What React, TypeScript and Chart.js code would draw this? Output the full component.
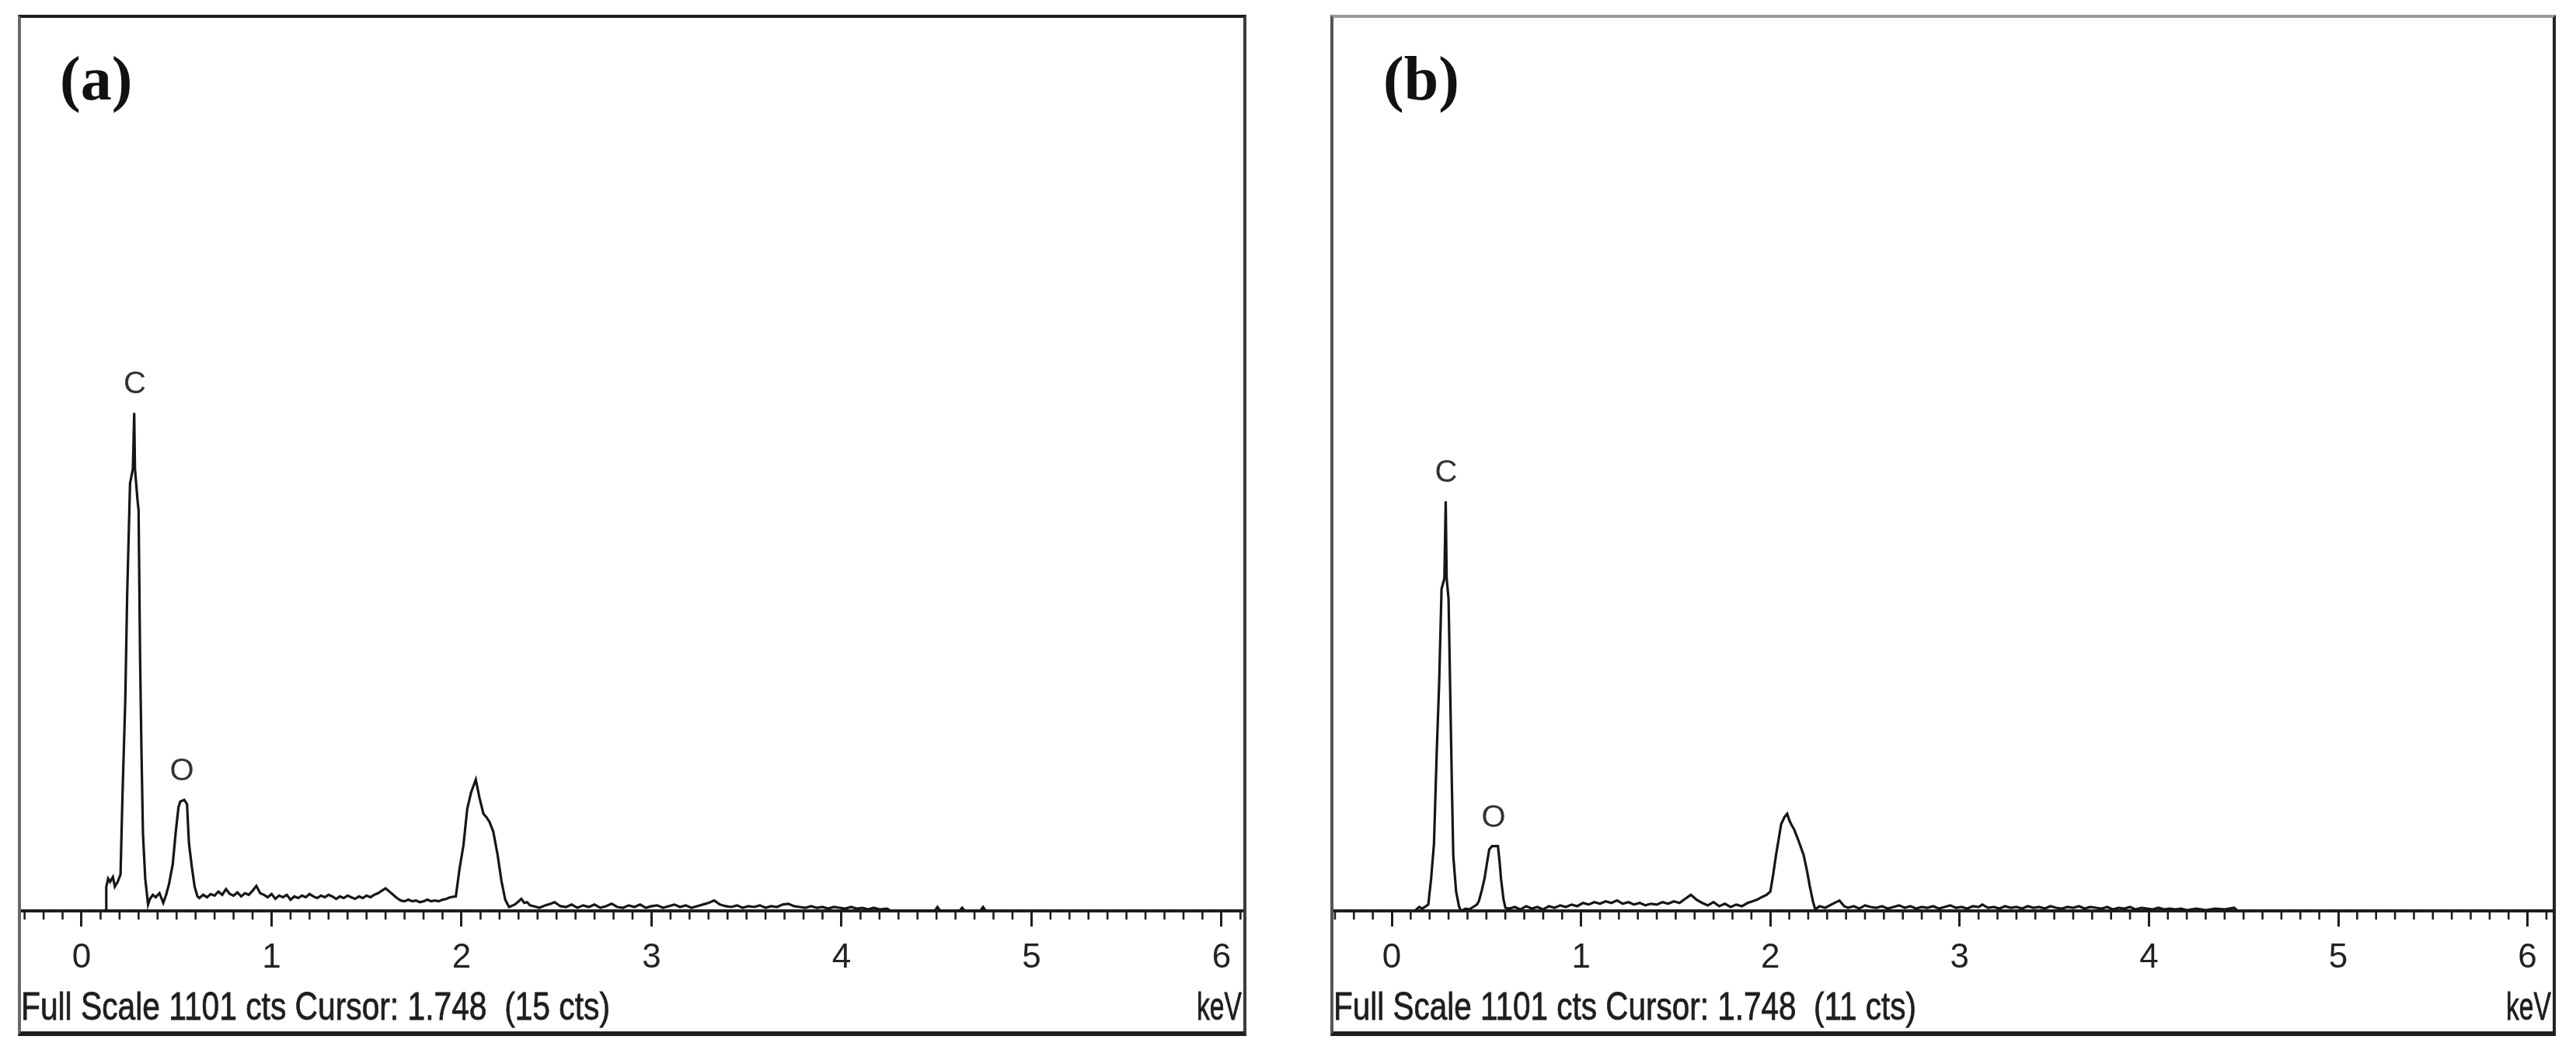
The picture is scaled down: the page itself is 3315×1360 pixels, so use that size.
import React, { useEffect, useRef } from 'react';
import { Chart, registerables } from 'chart.js';

Chart.register(...registerables);

// ---- data (energy keV, counts) ----
const FULL_SCALE = 1101;
const tickLabelsKeV = [0, 1, 2, 3, 4, 5, 6];

const spectrumA: [number, number][] = [
  [0.12, 0], [0.128, 0], [0.13, 30], [0.14, 40], [0.15, 36], [0.165, 42], [0.175, 30], [0.19, 36],
  [0.205, 45], [0.215, 140], [0.23, 260], [0.24, 390], [0.255, 527], [0.27, 545], [0.277, 614],
  [0.281, 545], [0.295, 505], [0.3, 494], [0.308, 311], [0.315, 200], [0.323, 96], [0.335, 40],
  [0.35, 8], [0.36, 15], [0.375, 20], [0.39, 17], [0.41, 22], [0.43, 10], [0.445, 20], [0.46, 33],
  [0.48, 58], [0.495, 96], [0.51, 128], [0.52, 135], [0.54, 137], [0.555, 132], [0.565, 84],
  [0.58, 55], [0.595, 30], [0.61, 18],
  [0.62, 16], [0.64, 20], [0.66, 17], [0.68, 21], [0.7, 19], [0.72, 24], [0.74, 20], [0.76, 27],
  [0.78, 21], [0.8, 19], [0.82, 23], [0.84, 18], [0.86, 22], [0.88, 20], [0.9, 25], [0.92, 31],
  [0.94, 22], [0.96, 20], [0.98, 17], [1.0, 21], [1.02, 15], [1.04, 19], [1.06, 17], [1.08, 20],
  [1.1, 14], [1.12, 18], [1.14, 16], [1.16, 19], [1.18, 17], [1.2, 21], [1.22, 18], [1.24, 16],
  [1.26, 19], [1.28, 17], [1.3, 20], [1.32, 18], [1.34, 15], [1.36, 18], [1.38, 16], [1.4, 19],
  [1.42, 17], [1.44, 15], [1.46, 18], [1.48, 16], [1.5, 19], [1.52, 17], [1.54, 20], [1.56, 22],
  [1.58, 25], [1.6, 28], [1.62, 24], [1.64, 20], [1.66, 16], [1.68, 13], [1.7, 12], [1.72, 14],
  [1.74, 12], [1.76, 13], [1.78, 11], [1.8, 12], [1.82, 14], [1.84, 12], [1.86, 13], [1.88, 12],
  [1.9, 14], [1.92, 15], [1.94, 17],
  [1.97, 18], [1.99, 53], [2.01, 81], [2.03, 126], [2.05, 146], [2.075, 162], [2.095, 139],
  [2.115, 120], [2.13, 116], [2.147, 110], [2.167, 98], [2.19, 69], [2.21, 37], [2.23, 14],
  [2.25, 5], [2.28, 8], [2.3, 12], [2.315, 15], [2.33, 10], [2.345, 11], [2.36, 7], [2.38, 6],
  [2.41, 4], [2.44, 7], [2.47, 9], [2.49, 11], [2.52, 6], [2.55, 5], [2.58, 8], [2.61, 4],
  [2.64, 7], [2.67, 5], [2.7, 8], [2.73, 4], [2.76, 6], [2.79, 9], [2.82, 5], [2.85, 4],
  [2.88, 7], [2.91, 5], [2.94, 8], [2.97, 4], [3.0, 6], [3.03, 7], [3.06, 4], [3.09, 6],
  [3.12, 8], [3.15, 5], [3.18, 7], [3.21, 4], [3.24, 6], [3.27, 8], [3.3, 10], [3.33, 13],
  [3.36, 8], [3.39, 6], [3.42, 5], [3.45, 7], [3.48, 4], [3.51, 6], [3.54, 5], [3.57, 7],
  [3.6, 4], [3.63, 6], [3.66, 5], [3.69, 8], [3.72, 9], [3.75, 6], [3.78, 5], [3.81, 4],
  [3.84, 6], [3.87, 4], [3.9, 5], [3.93, 3], [3.96, 5], [3.99, 4], [4.02, 3], [4.05, 5],
  [4.08, 3], [4.11, 4], [4.14, 2], [4.17, 4], [4.2, 2], [4.24, 3], [4.26, 0], [4.49, 0],
  [4.505, 5], [4.52, 0], [4.62, 0], [4.635, 4], [4.65, 0], [4.73, 0], [4.745, 5], [4.76, 0],
];

const spectrumB: [number, number][] = [
  [0.12, 0], [0.13, 2], [0.145, 5], [0.16, 3], [0.175, 5], [0.193, 8], [0.208, 40], [0.223, 83],
  [0.238, 199], [0.25, 278], [0.263, 397], [0.278, 410], [0.285, 505], [0.29, 410], [0.3, 385],
  [0.31, 254], [0.318, 150], [0.325, 68], [0.34, 24], [0.355, 6], [0.365, 0], [0.39, 3],
  [0.41, 2], [0.43, 5], [0.45, 8], [0.46, 12], [0.475, 25], [0.49, 40], [0.505, 62], [0.515, 76],
  [0.53, 80], [0.561, 80], [0.57, 60], [0.577, 40], [0.59, 15], [0.6, 4],
  [0.62, 3], [0.65, 5], [0.68, 2], [0.71, 6], [0.74, 3], [0.77, 5], [0.8, 2], [0.83, 6],
  [0.86, 4], [0.89, 7], [0.92, 5], [0.95, 8], [0.98, 6], [1.01, 10], [1.04, 8], [1.07, 11],
  [1.1, 9], [1.13, 12], [1.16, 10], [1.19, 13], [1.22, 9], [1.25, 11], [1.28, 8], [1.31, 10],
  [1.34, 7], [1.37, 9], [1.4, 8], [1.43, 11], [1.46, 9], [1.49, 12], [1.52, 10], [1.55, 15],
  [1.58, 20], [1.61, 14], [1.64, 10], [1.67, 7], [1.7, 11], [1.73, 6], [1.76, 9], [1.79, 5],
  [1.82, 8], [1.85, 6], [1.88, 10], [1.905, 12], [1.93, 14], [1.953, 17], [1.98, 20], [2.0, 24],
  [2.015, 45], [2.03, 69], [2.045, 90], [2.057, 107], [2.075, 116], [2.089, 120], [2.1, 112],
  [2.11, 107], [2.127, 100], [2.15, 86], [2.176, 69], [2.195, 48], [2.208, 31], [2.225, 12],
  [2.237, 2], [2.26, 6], [2.29, 4], [2.33, 9], [2.365, 13], [2.39, 6], [2.41, 4],
  [2.44, 6], [2.47, 3], [2.5, 7], [2.53, 5], [2.56, 4], [2.59, 6], [2.62, 3], [2.65, 5],
  [2.68, 7], [2.71, 4], [2.74, 6], [2.77, 3], [2.8, 5], [2.83, 4], [2.86, 6], [2.89, 3],
  [2.92, 5], [2.95, 7], [2.98, 4], [3.01, 5], [3.04, 3], [3.07, 6], [3.1, 5], [3.12, 8],
  [3.15, 4], [3.18, 5], [3.21, 3], [3.24, 6], [3.27, 4], [3.3, 5], [3.33, 3], [3.36, 6],
  [3.39, 4], [3.42, 5], [3.45, 3], [3.48, 6], [3.51, 4], [3.54, 3], [3.57, 5], [3.6, 4],
  [3.63, 6], [3.66, 3], [3.69, 5], [3.72, 4], [3.75, 3], [3.78, 5], [3.81, 2], [3.84, 4],
  [3.87, 3], [3.9, 5], [3.93, 2], [3.96, 4], [3.99, 3], [4.02, 2], [4.05, 4], [4.08, 2],
  [4.11, 3], [4.14, 2], [4.17, 3], [4.2, 1], [4.25, 3], [4.3, 1], [4.35, 3], [4.4, 2],
  [4.45, 4], [4.47, 0],
];

const peakNames = ['C', 'O'];
const peakEnergyA = [0.28, 0.528];
const peakCountsA = [614, 137];
const peakEnergyB = [0.287, 0.538];
const peakCountsB = [505, 80];

const panelTitles = ['(a)', '(b)'];
const footerTexts = [
  'Full Scale 1101 cts Cursor: 1.748  (15 cts)',
  'Full Scale 1101 cts Cursor: 1.748  (11 cts)',
];
const unitText = 'keV';

type PanelProps = {
  spectrum: [number, number][];
  xMin: number;
  xMax: number;
  peakEnergy: number[];
  peakCounts: number[];
  title: string;
  titleX: number;
  footer: string;
  footerWidth: number;
  box: React.CSSProperties;
  canvasW: number;
  canvasH: number;
};

function drawSqueezed(
  ctx: CanvasRenderingContext2D,
  text: string,
  x: number,
  y: number,
  targetW: number,
  align: CanvasTextAlign
) {
  ctx.save();
  ctx.font = '50px "Liberation Sans", Arial, sans-serif';
  const w = ctx.measureText(text).width;
  const s = targetW / w;
  ctx.translate(x, y);
  ctx.scale(s, 1);
  ctx.textAlign = align;
  ctx.textBaseline = 'alphabetic';
  ctx.fillStyle = '#1e1e1e';
  ctx.strokeStyle = '#1e1e1e';
  ctx.lineWidth = 0.8;
  ctx.fillText(text, 0, 0);
  ctx.strokeText(text, 0, 0);
  ctx.restore();
}

function Panel(p: PanelProps) {
  const ref = useRef<HTMLCanvasElement | null>(null);
  useEffect(() => {
    const canvas = ref.current;
    if (!canvas) return;
    const decor = {
      id: 'edsDecor',
      afterDraw(chart: any) {
        const ctx: CanvasRenderingContext2D = chart.ctx;
        const xs = chart.scales.x;
        const ys = chart.scales.y;
        const area = chart.chartArea;
        ctx.save();
        // minor ticks every 0.1 keV
        ctx.strokeStyle = '#1e1e1e';
        ctx.lineWidth = 2.6;
        for (let k = Math.ceil(p.xMin * 10); k <= Math.floor(p.xMax * 10); k++) {
          if (k % 10 === 0) continue;
          const px = xs.getPixelForValue(k / 10);
          ctx.beginPath();
          ctx.moveTo(px, area.bottom);
          ctx.lineTo(px, area.bottom + 11);
          ctx.stroke();
        }
        // element labels
        ctx.fillStyle = '#333';
        ctx.font = '40px "Liberation Sans", Arial, sans-serif';
        ctx.textAlign = 'center';
        ctx.textBaseline = 'middle';
        peakNames.forEach((n, i) => {
          ctx.fillText(n, xs.getPixelForValue(p.peakEnergy[i]), ys.getPixelForValue(p.peakCounts[i]) - 36);
        });
        // panel title
        ctx.fillStyle = '#111';
        ctx.font = 'bold 80px "Liberation Serif", "Times New Roman", serif';
        ctx.textAlign = 'left';
        ctx.textBaseline = 'alphabetic';
        ctx.fillText(p.title, p.titleX, 105);
        // footer
        const base = chart.height - 15;
        drawSqueezed(ctx, p.footer, 0, base, p.footerWidth, 'left');
        drawSqueezed(ctx, unitText, chart.width - 2, base, 58, 'right');
        ctx.restore();
      },
    };
    const chart = new Chart(canvas, {
      type: 'line',
      data: {
        datasets: [
          {
            data: p.spectrum.map(([e, c]) => ({ x: e, y: c })),
            borderColor: '#161616',
            borderWidth: 3.2,
            pointRadius: 0,
            tension: 0,
            fill: false,
          },
        ],
      },
      options: {
        animation: false,
        responsive: false,
        maintainAspectRatio: false,
        layout: { padding: { left: 0, right: 0, top: 0, bottom: 54 } },
        plugins: { legend: { display: false }, tooltip: { enabled: false } },
        scales: {
          x: {
            type: 'linear',
            position: 'bottom',
            min: p.xMin,
            max: p.xMax,
            afterBuildTicks: (scale: any) => {
              scale.ticks = tickLabelsKeV.map((v) => ({ value: v }));
            },
            ticks: {
              stepSize: 1,
              includeBounds: false,
              autoSkip: false,
              maxRotation: 0,
              padding: 14,
              color: '#222',
              font: { family: '"Liberation Sans", Arial, sans-serif', size: 44 },
              callback: (v: any) => String(Math.round(Number(v))),
            },
            grid: {
              display: true,
              drawOnChartArea: false,
              drawTicks: true,
              tickLength: 20,
              tickWidth: 3,
              tickColor: '#1e1e1e',
            },
            border: { display: true, width: 4, color: '#1e1e1e' },
          },
          y: { type: 'linear', min: 0, max: FULL_SCALE, display: false },
        },
      } as any,
      plugins: [decor as any],
    });
    return () => chart.destroy();
  }, []);
  return (
    <div style={{ position: 'absolute', boxSizing: 'border-box', ...p.box }}>
      <canvas
        ref={ref}
        width={p.canvasW}
        height={p.canvasH}
        style={{ display: 'block', width: p.canvasW, height: p.canvasH }}
      />
    </div>
  );
}

export default function App() {
  return (
    <div
      style={{
        position: 'fixed',
        left: 0,
        top: 0,
        width: 3315,
        height: 1360,
        background: '#fff',
        overflow: 'hidden',
      }}
    >
      <Panel
        spectrum={spectrumA}
        xMin={-0.319}
        xMax={6.115}
        peakEnergy={peakEnergyA}
        peakCounts={peakCountsA}
        title={panelTitles[0]}
        titleX={50}
        footer={footerTexts[0]}
        footerWidth={758}
        canvasW={1573}
        canvasH={1304}
        box={{
          left: 23,
          top: 19,
          width: 1581,
          height: 1314,
          borderLeft: '4px solid #6a6a6a',
          borderTop: '4px solid #1e1e1e',
          borderRight: '4px solid #3a3a3a',
          borderBottom: '6px solid #1e1e1e',
        }}
      />
      <Panel
        spectrum={spectrumB}
        xMin={-0.308}
        xMax={6.133}
        peakEnergy={peakEnergyB}
        peakCounts={peakCountsB}
        title={panelTitles[1]}
        titleX={64}
        footer={footerTexts[1]}
        footerWidth={750}
        canvasW={1569}
        canvasH={1304}
        box={{
          left: 1712,
          top: 19,
          width: 1577,
          height: 1314,
          borderLeft: '4px solid #555',
          borderTop: '4px solid #9a9a9a',
          borderRight: '4px solid #222',
          borderBottom: '6px solid #1e1e1e',
        }}
      />
    </div>
  );
}
